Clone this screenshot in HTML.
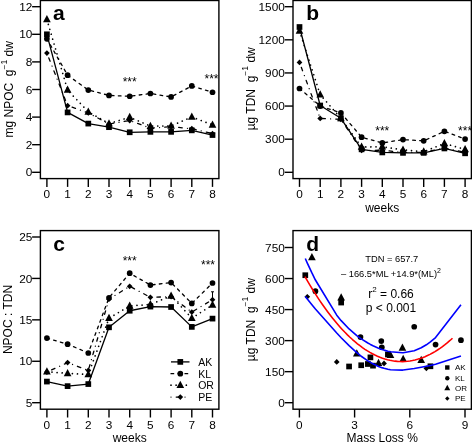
<!DOCTYPE html><html><head><meta charset="utf-8"><style>html,body{margin:0;padding:0;background:#fff;overflow:hidden;position:relative}svg{display:block;filter:grayscale(1)}</style></head><body><svg width="472" height="442" viewBox="0 0 472 442" font-family='"Liberation Sans", sans-serif'>
<rect width="472" height="442" fill="#fff"/>
<polyline points="46.9,53.07 67.6,105.65 88.3,112.96 109,124 129.7,120.55 150.4,128.14 171.1,126.76 191.8,128.69 212.5,133.66" fill="none" stroke="#000" stroke-width="1.3" stroke-linecap="round" stroke-linejoin="round" stroke-dasharray="0.01 5.2 3.6 5.2"/>
<g fill="#000"><polygon points="44.05,53.07 46.9,50.22 49.75,53.07 46.9,55.92"/><polygon points="64.75,105.65 67.6,102.8 70.45,105.65 67.6,108.5"/><polygon points="85.45,112.96 88.3,110.11 91.15,112.96 88.3,115.81"/><polygon points="106.15,124 109,121.15 111.85,124 109,126.85"/><polygon points="126.85,120.55 129.7,117.7 132.55,120.55 129.7,123.4"/><polygon points="147.55,128.14 150.4,125.29 153.25,128.14 150.4,130.99"/><polygon points="168.25,126.76 171.1,123.91 173.95,126.76 171.1,129.61"/><polygon points="188.95,128.69 191.8,125.84 194.65,128.69 191.8,131.54"/><polygon points="209.65,133.66 212.5,130.81 215.35,133.66 212.5,136.51"/></g>
<polyline points="46.9,19.53 67.6,90.05 88.3,111.86 109,123.59 129.7,117.24 150.4,126.07 171.1,125.93 191.8,116.96 212.5,124.83" fill="none" stroke="#000" stroke-width="1.7" stroke-linecap="round" stroke-linejoin="round" stroke-dasharray="0.01 5.1"/>
<g fill="#000"><polygon points="46.9,15.1 50.74,22.35 43.06,22.35"/><polygon points="67.6,85.62 71.44,92.87 63.76,92.87"/><polygon points="88.3,107.42 92.14,114.67 84.46,114.67"/><polygon points="109,119.15 112.84,126.4 105.16,126.4"/><polygon points="129.7,112.81 133.54,120.05 125.86,120.05"/><polygon points="150.4,121.64 154.24,128.89 146.56,128.89"/><polygon points="171.1,121.5 174.94,128.75 167.26,128.75"/><polygon points="191.8,112.53 195.64,119.78 187.96,119.78"/><polygon points="212.5,120.4 216.34,127.64 208.66,127.64"/></g>
<polyline points="46.9,38.85 67.6,75.15 88.3,90.05 109,95.43 129.7,96.26 150.4,93.5 171.1,96.95 191.8,85.91 212.5,92.26" fill="none" stroke="#000" stroke-width="1.3" stroke-linecap="round" stroke-linejoin="round" stroke-dasharray="2.7 4.3"/>
<g fill="#000"><circle cx="46.9" cy="38.85" r="2.85"/><circle cx="67.6" cy="75.15" r="2.85"/><circle cx="88.3" cy="90.05" r="2.85"/><circle cx="109" cy="95.43" r="2.85"/><circle cx="129.7" cy="96.26" r="2.85"/><circle cx="150.4" cy="93.5" r="2.85"/><circle cx="171.1" cy="96.95" r="2.85"/><circle cx="191.8" cy="85.91" r="2.85"/><circle cx="212.5" cy="92.26" r="2.85"/></g>
<polyline points="46.9,34.3 67.6,112.41 88.3,123.59 109,127.17 129.7,132.28 150.4,131.87 171.1,131.87 191.8,130.35 212.5,135.04" fill="none" stroke="#000" stroke-width="1.3" stroke-linecap="butt" stroke-linejoin="round"/>
<g fill="#000"><rect x="44.05" y="31.45" width="5.7" height="5.7"/><rect x="64.75" y="109.56" width="5.7" height="5.7"/><rect x="85.45" y="120.74" width="5.7" height="5.7"/><rect x="106.15" y="124.32" width="5.7" height="5.7"/><rect x="126.85" y="129.43" width="5.7" height="5.7"/><rect x="147.55" y="129.02" width="5.7" height="5.7"/><rect x="168.25" y="129.02" width="5.7" height="5.7"/><rect x="188.95" y="127.5" width="5.7" height="5.7"/><rect x="209.65" y="132.19" width="5.7" height="5.7"/></g>
<rect x="40.4" y="0.5" width="178.5" height="178.1" fill="none" stroke="#000" stroke-width="1.4"/>
<line x1="46.9" y1="178.6" x2="46.9" y2="186.9" stroke="#000" stroke-width="1.4"/>
<text x="46.9" y="197.9" font-size="11.8" text-anchor="middle">0</text>
<line x1="67.6" y1="178.6" x2="67.6" y2="186.9" stroke="#000" stroke-width="1.4"/>
<text x="67.6" y="197.9" font-size="11.8" text-anchor="middle">1</text>
<line x1="88.3" y1="178.6" x2="88.3" y2="186.9" stroke="#000" stroke-width="1.4"/>
<text x="88.3" y="197.9" font-size="11.8" text-anchor="middle">2</text>
<line x1="109" y1="178.6" x2="109" y2="186.9" stroke="#000" stroke-width="1.4"/>
<text x="109" y="197.9" font-size="11.8" text-anchor="middle">3</text>
<line x1="129.7" y1="178.6" x2="129.7" y2="186.9" stroke="#000" stroke-width="1.4"/>
<text x="129.7" y="197.9" font-size="11.8" text-anchor="middle">4</text>
<line x1="150.4" y1="178.6" x2="150.4" y2="186.9" stroke="#000" stroke-width="1.4"/>
<text x="150.4" y="197.9" font-size="11.8" text-anchor="middle">5</text>
<line x1="171.1" y1="178.6" x2="171.1" y2="186.9" stroke="#000" stroke-width="1.4"/>
<text x="171.1" y="197.9" font-size="11.8" text-anchor="middle">6</text>
<line x1="191.8" y1="178.6" x2="191.8" y2="186.9" stroke="#000" stroke-width="1.4"/>
<text x="191.8" y="197.9" font-size="11.8" text-anchor="middle">7</text>
<line x1="212.5" y1="178.6" x2="212.5" y2="186.9" stroke="#000" stroke-width="1.4"/>
<text x="212.5" y="197.9" font-size="11.8" text-anchor="middle">8</text>
<line x1="40.4" y1="172.3" x2="32.1" y2="172.3" stroke="#000" stroke-width="1.4"/>
<text x="32.3" y="176.4" font-size="11.8" text-anchor="end">0</text>
<line x1="40.4" y1="144.7" x2="32.1" y2="144.7" stroke="#000" stroke-width="1.4"/>
<text x="32.3" y="148.8" font-size="11.8" text-anchor="end">2</text>
<line x1="40.4" y1="117.1" x2="32.1" y2="117.1" stroke="#000" stroke-width="1.4"/>
<text x="32.3" y="121.2" font-size="11.8" text-anchor="end">4</text>
<line x1="40.4" y1="89.5" x2="32.1" y2="89.5" stroke="#000" stroke-width="1.4"/>
<text x="32.3" y="93.6" font-size="11.8" text-anchor="end">6</text>
<line x1="40.4" y1="61.9" x2="32.1" y2="61.9" stroke="#000" stroke-width="1.4"/>
<text x="32.3" y="66" font-size="11.8" text-anchor="end">8</text>
<line x1="40.4" y1="34.3" x2="32.1" y2="34.3" stroke="#000" stroke-width="1.4"/>
<text x="32.3" y="38.4" font-size="11.8" text-anchor="end">10</text>
<line x1="40.4" y1="6.7" x2="32.1" y2="6.7" stroke="#000" stroke-width="1.4"/>
<text x="32.3" y="10.8" font-size="11.8" text-anchor="end">12</text>
<text x="53" y="20" font-size="21" text-anchor="start" font-weight="bold">a</text>
<text x="129.7" y="85.7" font-size="12" text-anchor="middle" >***</text>
<text x="211.5" y="82.9" font-size="12" text-anchor="middle" >***</text>
<text transform="translate(13.3,89.3) rotate(-90)" font-size="12" text-anchor="middle" xml:space="preserve">mg NPOC  g<tspan dy="-6.7" font-size="8.5">−1</tspan><tspan dy="6.7"> dw</tspan></text>
<polyline points="299.5,62.45 320.2,118.42 340.9,119.31 361.6,150.44 382.3,150.22 403,152.43 423.7,152.43 444.4,148.01 465.1,152.43" fill="none" stroke="#000" stroke-width="1.3" stroke-linecap="round" stroke-linejoin="round" stroke-dasharray="0.01 5.2 3.6 5.2"/>
<g fill="#000"><polygon points="296.65,62.45 299.5,59.6 302.35,62.45 299.5,65.3"/><polygon points="317.35,118.42 320.2,115.57 323.05,118.42 320.2,121.27"/><polygon points="338.05,119.31 340.9,116.46 343.75,119.31 340.9,122.16"/><polygon points="358.75,150.44 361.6,147.59 364.45,150.44 361.6,153.29"/><polygon points="379.45,150.22 382.3,147.37 385.15,150.22 382.3,153.07"/><polygon points="400.15,152.43 403,149.58 405.85,152.43 403,155.28"/><polygon points="420.85,152.43 423.7,149.58 426.55,152.43 423.7,155.28"/><polygon points="441.55,148.01 444.4,145.16 447.25,148.01 444.4,150.86"/><polygon points="462.25,152.43 465.1,149.58 467.95,152.43 465.1,155.28"/></g>
<polyline points="299.5,30.99 320.2,94.69 340.9,118.31 361.6,147.02 382.3,146.69 403,149.89 423.7,151.66 444.4,143.49 465.1,149.34" fill="none" stroke="#000" stroke-width="1.7" stroke-linecap="round" stroke-linejoin="round" stroke-dasharray="0.01 5.1"/>
<g fill="#000"><polygon points="299.5,26.56 303.34,33.8 295.66,33.8"/><polygon points="320.2,90.26 324.04,97.5 316.36,97.5"/><polygon points="340.9,113.88 344.74,121.13 337.06,121.13"/><polygon points="361.6,142.59 365.44,149.83 357.76,149.83"/><polygon points="382.3,142.26 386.14,149.5 378.46,149.5"/><polygon points="403,145.46 406.84,152.7 399.16,152.7"/><polygon points="423.7,147.22 427.54,154.47 419.86,154.47"/><polygon points="444.4,139.05 448.24,146.3 440.56,146.3"/><polygon points="465.1,144.9 468.94,152.15 461.26,152.15"/></g>
<polyline points="299.5,88.51 320.2,106.06 340.9,112.9 361.6,137.19 382.3,142.93 403,139.62 423.7,140.84 444.4,131.34 465.1,139.07" fill="none" stroke="#000" stroke-width="1.3" stroke-linecap="round" stroke-linejoin="round" stroke-dasharray="2.7 4.3"/>
<g fill="#000"><circle cx="299.5" cy="88.51" r="2.85"/><circle cx="320.2" cy="106.06" r="2.85"/><circle cx="340.9" cy="112.9" r="2.85"/><circle cx="361.6" cy="137.19" r="2.85"/><circle cx="382.3" cy="142.93" r="2.85"/><circle cx="403" cy="139.62" r="2.85"/><circle cx="423.7" cy="140.84" r="2.85"/><circle cx="444.4" cy="131.34" r="2.85"/><circle cx="465.1" cy="139.07" r="2.85"/></g>
<polyline points="299.5,27.01 320.2,105.51 340.9,118.31 361.6,149.34 382.3,152.43 403,152.87 423.7,152.87 444.4,148.45 465.1,153.31" fill="none" stroke="#000" stroke-width="1.3" stroke-linecap="butt" stroke-linejoin="round"/>
<g fill="#000"><rect x="296.65" y="24.16" width="5.7" height="5.7"/><rect x="317.35" y="102.66" width="5.7" height="5.7"/><rect x="338.05" y="115.46" width="5.7" height="5.7"/><rect x="358.75" y="146.49" width="5.7" height="5.7"/><rect x="379.45" y="149.58" width="5.7" height="5.7"/><rect x="400.15" y="150.02" width="5.7" height="5.7"/><rect x="420.85" y="150.02" width="5.7" height="5.7"/><rect x="441.55" y="145.6" width="5.7" height="5.7"/><rect x="462.25" y="150.46" width="5.7" height="5.7"/></g>
<rect x="293" y="0.5" width="178.4" height="178.1" fill="none" stroke="#000" stroke-width="1.4"/>
<line x1="299.5" y1="178.6" x2="299.5" y2="186.9" stroke="#000" stroke-width="1.4"/>
<text x="299.5" y="197.9" font-size="11.8" text-anchor="middle">0</text>
<line x1="320.2" y1="178.6" x2="320.2" y2="186.9" stroke="#000" stroke-width="1.4"/>
<text x="320.2" y="197.9" font-size="11.8" text-anchor="middle">1</text>
<line x1="340.9" y1="178.6" x2="340.9" y2="186.9" stroke="#000" stroke-width="1.4"/>
<text x="340.9" y="197.9" font-size="11.8" text-anchor="middle">2</text>
<line x1="361.6" y1="178.6" x2="361.6" y2="186.9" stroke="#000" stroke-width="1.4"/>
<text x="361.6" y="197.9" font-size="11.8" text-anchor="middle">3</text>
<line x1="382.3" y1="178.6" x2="382.3" y2="186.9" stroke="#000" stroke-width="1.4"/>
<text x="382.3" y="197.9" font-size="11.8" text-anchor="middle">4</text>
<line x1="403" y1="178.6" x2="403" y2="186.9" stroke="#000" stroke-width="1.4"/>
<text x="403" y="197.9" font-size="11.8" text-anchor="middle">5</text>
<line x1="423.7" y1="178.6" x2="423.7" y2="186.9" stroke="#000" stroke-width="1.4"/>
<text x="423.7" y="197.9" font-size="11.8" text-anchor="middle">6</text>
<line x1="444.4" y1="178.6" x2="444.4" y2="186.9" stroke="#000" stroke-width="1.4"/>
<text x="444.4" y="197.9" font-size="11.8" text-anchor="middle">7</text>
<line x1="465.1" y1="178.6" x2="465.1" y2="186.9" stroke="#000" stroke-width="1.4"/>
<text x="465.1" y="197.9" font-size="11.8" text-anchor="middle">8</text>
<line x1="293" y1="172.3" x2="284.7" y2="172.3" stroke="#000" stroke-width="1.4"/>
<text x="284.8" y="176.4" font-size="11.8" text-anchor="end">0</text>
<line x1="293" y1="139.18" x2="284.7" y2="139.18" stroke="#000" stroke-width="1.4"/>
<text x="284.8" y="143.28" font-size="11.8" text-anchor="end">300</text>
<line x1="293" y1="106.06" x2="284.7" y2="106.06" stroke="#000" stroke-width="1.4"/>
<text x="284.8" y="110.16" font-size="11.8" text-anchor="end">600</text>
<line x1="293" y1="72.94" x2="284.7" y2="72.94" stroke="#000" stroke-width="1.4"/>
<text x="284.8" y="77.04" font-size="11.8" text-anchor="end">900</text>
<line x1="293" y1="39.82" x2="284.7" y2="39.82" stroke="#000" stroke-width="1.4"/>
<text x="284.8" y="43.92" font-size="11.8" text-anchor="end">1200</text>
<line x1="293" y1="6.7" x2="284.7" y2="6.7" stroke="#000" stroke-width="1.4"/>
<text x="284.8" y="10.8" font-size="11.8" text-anchor="end">1500</text>
<text x="306.3" y="19.6" font-size="21" text-anchor="start" font-weight="bold">b</text>
<text x="382.3" y="134.9" font-size="12" text-anchor="middle" >***</text>
<text x="465.1" y="134.9" font-size="12" text-anchor="middle" >***</text>
<text x="382.2" y="211.7" font-size="12" text-anchor="middle" >weeks</text>
<text transform="translate(254.5,88.8) rotate(-90)" font-size="12" text-anchor="middle" xml:space="preserve">µg TDN  g<tspan dy="-6.7" font-size="8.5">−1</tspan><tspan dy="6.7"> dw</tspan></text>
<polyline points="46.9,372.05 67.6,362.6 88.3,370.39 109,299.14 129.7,286.3 150.4,297.31 171.1,296.65 191.8,312.06 212.5,299.63" fill="none" stroke="#000" stroke-width="1.3" stroke-linecap="round" stroke-linejoin="round" stroke-dasharray="0.01 5.2 3.6 5.2"/>
<g fill="#000"><polygon points="44.05,372.05 46.9,369.2 49.75,372.05 46.9,374.9"/><polygon points="64.75,362.6 67.6,359.75 70.45,362.6 67.6,365.45"/><polygon points="85.45,370.39 88.3,367.54 91.15,370.39 88.3,373.24"/><polygon points="106.15,299.14 109,296.29 111.85,299.14 109,301.99"/><polygon points="126.85,286.3 129.7,283.45 132.55,286.3 129.7,289.15"/><polygon points="147.55,297.31 150.4,294.46 153.25,297.31 150.4,300.16"/><polygon points="168.25,296.65 171.1,293.8 173.95,296.65 171.1,299.5"/><polygon points="188.95,312.06 191.8,309.21 194.65,312.06 191.8,314.91"/><polygon points="209.65,299.63 212.5,296.78 215.35,299.63 212.5,302.48"/></g>
<polyline points="46.9,371.8 67.6,373.37 88.3,374.53 109,318.19 129.7,305.93 150.4,304.52 171.1,295.82 191.8,318.19 212.5,304.94" fill="none" stroke="#000" stroke-width="1.7" stroke-linecap="round" stroke-linejoin="round" stroke-dasharray="0.01 5.1"/>
<g fill="#000"><polygon points="46.9,367.36 50.74,374.61 43.06,374.61"/><polygon points="67.6,368.94 71.44,376.19 63.76,376.19"/><polygon points="88.3,370.1 92.14,377.35 84.46,377.35"/><polygon points="109,313.76 112.84,321.01 105.16,321.01"/><polygon points="129.7,301.5 133.54,308.75 125.86,308.75"/><polygon points="150.4,300.09 154.24,307.34 146.56,307.34"/><polygon points="171.1,291.39 174.94,298.64 167.26,298.64"/><polygon points="191.8,313.76 195.64,321.01 187.96,321.01"/><polygon points="212.5,300.5 216.34,307.75 208.66,307.75"/></g>
<polyline points="46.9,338.08 67.6,344.21 88.3,352.99 109,297.73 129.7,273.21 150.4,285.05 171.1,282.57 191.8,303.45 212.5,282.98" fill="none" stroke="#000" stroke-width="1.3" stroke-linecap="round" stroke-linejoin="round" stroke-dasharray="2.7 4.3"/>
<g fill="#000"><circle cx="46.9" cy="338.08" r="2.85"/><circle cx="67.6" cy="344.21" r="2.85"/><circle cx="88.3" cy="352.99" r="2.85"/><circle cx="109" cy="297.73" r="2.85"/><circle cx="129.7" cy="273.21" r="2.85"/><circle cx="150.4" cy="285.05" r="2.85"/><circle cx="171.1" cy="282.57" r="2.85"/><circle cx="191.8" cy="303.45" r="2.85"/><circle cx="212.5" cy="282.98" r="2.85"/></g>
<polyline points="46.9,381.57 67.6,386.13 88.3,384.06 109,327.31 129.7,310.74 150.4,306.59 171.1,307.01 191.8,326.89 212.5,318.61" fill="none" stroke="#000" stroke-width="1.3" stroke-linecap="butt" stroke-linejoin="round"/>
<g fill="#000"><rect x="44.05" y="378.72" width="5.7" height="5.7"/><rect x="64.75" y="383.28" width="5.7" height="5.7"/><rect x="85.45" y="381.21" width="5.7" height="5.7"/><rect x="106.15" y="324.46" width="5.7" height="5.7"/><rect x="126.85" y="307.89" width="5.7" height="5.7"/><rect x="147.55" y="303.74" width="5.7" height="5.7"/><rect x="168.25" y="304.16" width="5.7" height="5.7"/><rect x="188.95" y="324.04" width="5.7" height="5.7"/><rect x="209.65" y="315.76" width="5.7" height="5.7"/></g>
<line x1="212.5" y1="291.8" x2="212.5" y2="299" stroke="#000" stroke-width="1"/>
<line x1="211" y1="291.8" x2="214" y2="291.8" stroke="#000" stroke-width="1"/>
<rect x="40.4" y="230.6" width="178.5" height="178.6" fill="none" stroke="#000" stroke-width="1.4"/>
<line x1="46.9" y1="409.2" x2="46.9" y2="417.5" stroke="#000" stroke-width="1.4"/>
<text x="46.9" y="428.6" font-size="11.8" text-anchor="middle">0</text>
<line x1="67.6" y1="409.2" x2="67.6" y2="417.5" stroke="#000" stroke-width="1.4"/>
<text x="67.6" y="428.6" font-size="11.8" text-anchor="middle">1</text>
<line x1="88.3" y1="409.2" x2="88.3" y2="417.5" stroke="#000" stroke-width="1.4"/>
<text x="88.3" y="428.6" font-size="11.8" text-anchor="middle">2</text>
<line x1="109" y1="409.2" x2="109" y2="417.5" stroke="#000" stroke-width="1.4"/>
<text x="109" y="428.6" font-size="11.8" text-anchor="middle">3</text>
<line x1="129.7" y1="409.2" x2="129.7" y2="417.5" stroke="#000" stroke-width="1.4"/>
<text x="129.7" y="428.6" font-size="11.8" text-anchor="middle">4</text>
<line x1="150.4" y1="409.2" x2="150.4" y2="417.5" stroke="#000" stroke-width="1.4"/>
<text x="150.4" y="428.6" font-size="11.8" text-anchor="middle">5</text>
<line x1="171.1" y1="409.2" x2="171.1" y2="417.5" stroke="#000" stroke-width="1.4"/>
<text x="171.1" y="428.6" font-size="11.8" text-anchor="middle">6</text>
<line x1="191.8" y1="409.2" x2="191.8" y2="417.5" stroke="#000" stroke-width="1.4"/>
<text x="191.8" y="428.6" font-size="11.8" text-anchor="middle">7</text>
<line x1="212.5" y1="409.2" x2="212.5" y2="417.5" stroke="#000" stroke-width="1.4"/>
<text x="212.5" y="428.6" font-size="11.8" text-anchor="middle">8</text>
<line x1="40.4" y1="402.7" x2="32.1" y2="402.7" stroke="#000" stroke-width="1.4"/>
<text x="32.3" y="406.8" font-size="11.8" text-anchor="end">5</text>
<line x1="40.4" y1="361.27" x2="32.1" y2="361.27" stroke="#000" stroke-width="1.4"/>
<text x="32.3" y="365.38" font-size="11.8" text-anchor="end">10</text>
<line x1="40.4" y1="319.85" x2="32.1" y2="319.85" stroke="#000" stroke-width="1.4"/>
<text x="32.3" y="323.95" font-size="11.8" text-anchor="end">15</text>
<line x1="40.4" y1="278.42" x2="32.1" y2="278.42" stroke="#000" stroke-width="1.4"/>
<text x="32.3" y="282.52" font-size="11.8" text-anchor="end">20</text>
<line x1="40.4" y1="237" x2="32.1" y2="237" stroke="#000" stroke-width="1.4"/>
<text x="32.3" y="241.1" font-size="11.8" text-anchor="end">25</text>
<text x="53.3" y="250.6" font-size="21" text-anchor="start" font-weight="bold">c</text>
<text x="129.7" y="264.9" font-size="12" text-anchor="middle" >***</text>
<text x="208" y="269" font-size="12" text-anchor="middle" >***</text>
<text x="129.65" y="441.5" font-size="12" text-anchor="middle" >weeks</text>
<text transform="translate(11.9,319.5) rotate(-90)" font-size="12" text-anchor="middle" xml:space="preserve">NPOC : TDN</text>
<line x1="171" y1="361.9" x2="189.5" y2="361.9" stroke="#000" stroke-width="1.3" stroke-linecap="butt"/>
<g fill="#000"><rect x="177.45" y="359.05" width="5.7" height="5.7"/></g>
<text x="198.2" y="365.8" font-size="10.5" text-anchor="start" >AK</text>
<line x1="171" y1="373.7" x2="189.5" y2="373.7" stroke="#000" stroke-width="1.3" stroke-linecap="round" stroke-dasharray="2.7 4.3"/>
<g fill="#000"><circle cx="180.3" cy="373.7" r="2.85"/></g>
<text x="198.2" y="377.6" font-size="10.5" text-anchor="start" >KL</text>
<line x1="171" y1="385.2" x2="189.5" y2="385.2" stroke="#000" stroke-width="1.7" stroke-linecap="round" stroke-dasharray="0.01 5.1"/>
<g fill="#000"><polygon points="180.3,380.77 184.14,388.02 176.46,388.02"/></g>
<text x="198.2" y="389.1" font-size="10.5" text-anchor="start" >OR</text>
<line x1="171" y1="397.1" x2="189.5" y2="397.1" stroke="#000" stroke-width="1.3" stroke-linecap="round" stroke-dasharray="0.01 5.2 3.6 5.2"/>
<g fill="#000"><polygon points="177.45,397.1 180.3,394.25 183.15,397.1 180.3,399.95"/></g>
<text x="198.2" y="401" font-size="10.5" text-anchor="start" >PE</text>
<rect x="293" y="230.6" width="178.4" height="178.6" fill="none" stroke="#000" stroke-width="1.4"/>
<line x1="299.4" y1="409.2" x2="299.4" y2="417.5" stroke="#000" stroke-width="1.4"/>
<text x="299.4" y="428.6" font-size="11.8" text-anchor="middle">0</text>
<line x1="354.6" y1="409.2" x2="354.6" y2="417.5" stroke="#000" stroke-width="1.4"/>
<text x="354.6" y="428.6" font-size="11.8" text-anchor="middle">3</text>
<line x1="409.8" y1="409.2" x2="409.8" y2="417.5" stroke="#000" stroke-width="1.4"/>
<text x="409.8" y="428.6" font-size="11.8" text-anchor="middle">6</text>
<line x1="465" y1="409.2" x2="465" y2="417.5" stroke="#000" stroke-width="1.4"/>
<text x="465" y="428.6" font-size="11.8" text-anchor="middle">9</text>
<line x1="293" y1="402.7" x2="284.7" y2="402.7" stroke="#000" stroke-width="1.4"/>
<text x="284.8" y="406.8" font-size="11.8" text-anchor="end">0</text>
<line x1="293" y1="371.66" x2="284.7" y2="371.66" stroke="#000" stroke-width="1.4"/>
<text x="284.8" y="375.76" font-size="11.8" text-anchor="end">150</text>
<line x1="293" y1="340.62" x2="284.7" y2="340.62" stroke="#000" stroke-width="1.4"/>
<text x="284.8" y="344.72" font-size="11.8" text-anchor="end">300</text>
<line x1="293" y1="309.58" x2="284.7" y2="309.58" stroke="#000" stroke-width="1.4"/>
<text x="284.8" y="313.68" font-size="11.8" text-anchor="end">450</text>
<line x1="293" y1="278.54" x2="284.7" y2="278.54" stroke="#000" stroke-width="1.4"/>
<text x="284.8" y="282.64" font-size="11.8" text-anchor="end">600</text>
<line x1="293" y1="247.5" x2="284.7" y2="247.5" stroke="#000" stroke-width="1.4"/>
<text x="284.8" y="251.6" font-size="11.8" text-anchor="end">750</text>
<text x="306.2" y="250.6" font-size="21" text-anchor="start" font-weight="bold">d</text>
<text x="382.2" y="441.5" font-size="12" text-anchor="middle" >Mass Loss %</text>
<text transform="translate(254.5,319.6) rotate(-90)" font-size="12" text-anchor="middle" xml:space="preserve">µg TDN  g<tspan dy="-6.7" font-size="8.5">−1</tspan><tspan dy="6.7"> dw</tspan></text>
<g fill="#000"><rect x="302.44" y="272.38" width="5.7" height="5.7"/><polygon points="311.91,253 315.75,260.25 308.07,260.25"/><circle cx="315.41" cy="291.16" r="2.85"/><polygon points="304.46,296.75 307.31,293.9 310.16,296.75 307.31,299.6"/><rect x="338.32" y="299.7" width="5.7" height="5.7"/><polygon points="341.17,293.15 345.01,300.4 337.33,300.4"/><circle cx="360.49" cy="337.1" r="2.85"/><circle cx="381.28" cy="341.03" r="2.85"/><circle cx="381.83" cy="347.24" r="2.85"/><circle cx="414.22" cy="326.76" r="2.85"/><circle cx="435.56" cy="344.55" r="2.85"/><circle cx="460.95" cy="340.21" r="2.85"/><polygon points="356.81,349.23 360.65,356.47 352.97,356.47"/><polygon points="390.48,350.67 394.32,357.92 386.64,357.92"/><polygon points="402.44,343.43 406.28,350.68 398.6,350.68"/><polygon points="403.18,354.81 407.01,362.06 399.34,362.06"/><polygon points="421.21,355.64 425.05,362.89 417.37,362.89"/><polygon points="378.52,358.74 382.36,365.99 374.68,365.99"/><rect x="346.23" y="363.64" width="5.7" height="5.7"/><rect x="358.37" y="362.4" width="5.7" height="5.7"/><rect x="367.57" y="354.53" width="5.7" height="5.7"/><rect x="365" y="361.15" width="5.7" height="5.7"/><rect x="370.15" y="362.81" width="5.7" height="5.7"/><rect x="385.05" y="351.64" width="5.7" height="5.7"/><rect x="427.56" y="363.43" width="5.7" height="5.7"/><polygon points="333.9,361.93 336.75,359.08 339.6,361.93 336.75,364.78"/><polygon points="381.19,363.38 384.04,360.53 386.89,363.38 384.04,366.23"/><polygon points="423.51,368.35 426.36,365.5 429.21,368.35 426.36,371.2"/></g>
<text x="391.8" y="261.7" font-size="9.3" text-anchor="middle" >TDN = 657.7</text>
<text x="341" y="276.8" font-size="9.3" text-anchor="start" >– 166.5*ML +14.9*(ML)<tspan dy="-4" font-size="7">2</tspan></text>
<text x="368.3" y="298.2" font-size="12" text-anchor="start" >r<tspan dy="-6.6" font-size="8">2</tspan><tspan dy="6.6"> = 0.66</tspan></text>
<text x="365.8" y="312.3" font-size="12" text-anchor="start" >p &lt; 0.001</text>
<g fill="#000"><rect x="445.1" y="365.3" width="4.4" height="4.4"/></g>
<text x="455" y="370.4" font-size="8" text-anchor="start" >AK</text>
<g fill="#000"><circle cx="447.3" cy="378.2" r="2.2"/></g>
<text x="455" y="381.1" font-size="8" text-anchor="start" >KL</text>
<g fill="#000"><polygon points="447.3,384.78 450.26,390.37 444.34,390.37"/></g>
<text x="455" y="391.1" font-size="8" text-anchor="start" >OR</text>
<g fill="#000"><polygon points="445.1,398.5 447.3,396.3 449.5,398.5 447.3,400.7"/></g>
<text x="455" y="401.4" font-size="8" text-anchor="start" >PE</text>
</svg>
<svg width="472" height="442" viewBox="0 0 472 442" style="position:absolute;left:0;top:0;filter:none">
<polyline points="305.29,258.52 307.31,263.06 311.91,272.94 315.41,280.04 336.75,315.18 341.17,320.63 349.08,328.97 356.81,335.61 360.49,338.33 361.22,338.84 367.85,343.01 370.42,344.42 373,345.73 378.52,348.17 381.28,349.2 381.83,349.39 384.04,350.11 387.9,351.16 390.48,351.72 402.44,352.71 403.18,352.68 414.22,350.68 421.21,347.81 426.36,344.81 430.41,341.92 435.56,337.55 460.95,304.81" fill="none" stroke="#0000ff" stroke-width="1.6" stroke-linejoin="round"/>
<polyline points="305.29,296.56 307.31,299.09 311.91,304.72 315.41,308.91 336.75,333.02 341.17,337.7 349.08,345.66 356.81,352.66 360.49,355.65 361.22,356.22 367.85,360.86 370.42,362.42 373,363.84 378.52,366.4 381.28,367.43 381.83,367.62 384.04,368.3 387.9,369.24 390.48,369.7 402.44,370.13 403.18,370.07 414.22,368.57 421.21,367.27 426.36,366.25 430.41,365.42 435.56,364.28 460.95,356.11" fill="none" stroke="#0000ff" stroke-width="1.6" stroke-linejoin="round"/>
<polyline points="304.92,276.54 307.42,280.87 309.92,285.1 312.42,289.21 314.92,293.2 317.43,297.09 319.93,300.86 322.43,304.51 324.93,308.05 327.43,311.48 329.93,314.8 332.43,318 334.93,321.09 337.43,324.06 339.94,326.93 342.44,329.67 344.94,332.31 347.44,334.83 349.94,337.24 352.44,339.53 354.94,341.71 357.44,343.78 359.95,345.73 362.45,347.57 364.95,349.3 367.45,350.91 369.95,352.41 372.45,353.8 374.95,355.07 377.45,356.23 379.95,357.28 382.46,358.21 384.96,359.03 387.46,359.73 389.96,360.33 392.46,360.8 394.96,361.17 397.46,361.42 399.96,361.56 402.46,361.58 404.97,361.49 407.47,361.29 409.97,360.97 412.47,360.55 414.97,360 417.47,359.35 419.97,358.58 422.47,357.69 424.98,356.7 427.48,355.59 429.98,354.36 432.48,353.02 434.98,351.57 437.48,350.01 439.98,348.33 442.48,346.54 444.98,344.63 447.49,342.62 449.99,340.48 452.49,338.24" fill="none" stroke="#ff0000" stroke-width="1.6" stroke-linejoin="round"/>
</svg></body></html>
